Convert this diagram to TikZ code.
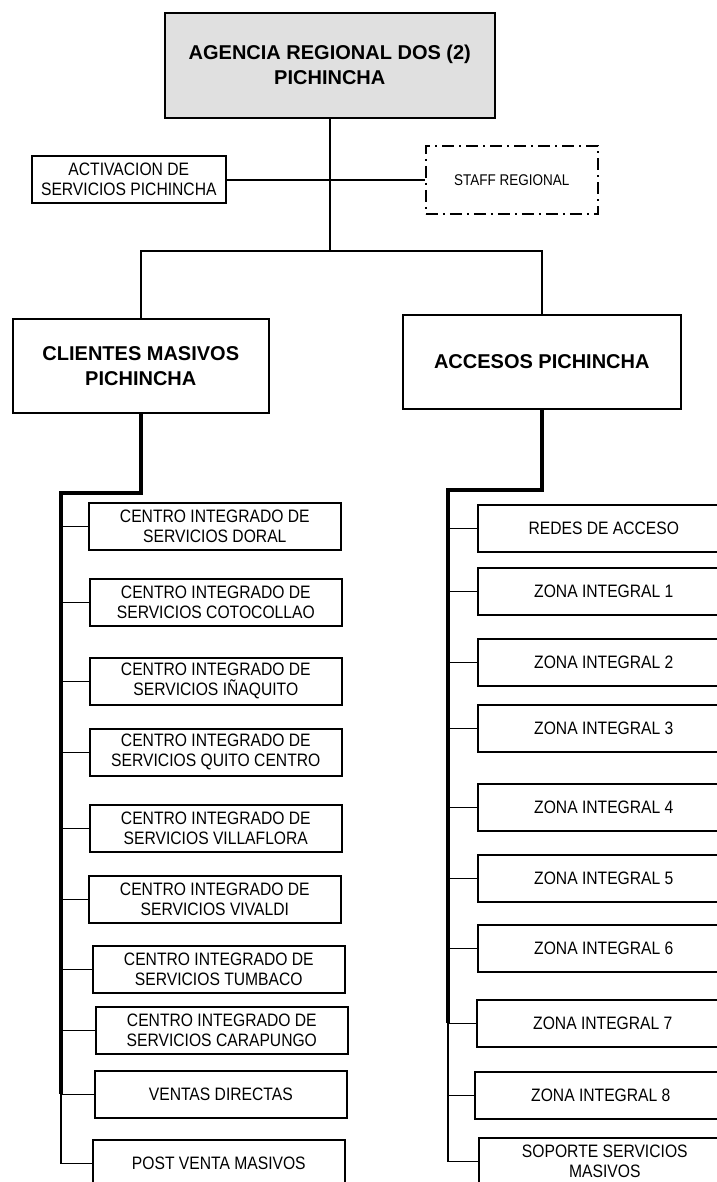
\documentclass[tikz,border=0pt]{standalone}
\usepackage{fontspec}
\setmainfont{Liberation Sans}
\newfontfamily\narrowfont[FakeStretch=0.87]{Liberation Sans}
\definecolor{headgray}{RGB}{224,224,224}
\begin{document}
\begin{tikzpicture}[x=1pt,y=-1pt,
  box/.style={draw,line width=1.6pt,anchor=north west,inner sep=0pt,align=center},
  headbox/.style={box,font=\fontsize{20}{25}\selectfont\bfseries},
  plainbox/.style={box,font=\narrowfont\fontsize{18}{20}\selectfont},
  unitbox/.style={plainbox,minimum width=252pt,minimum height=47pt},
  link/.style={line width=1.6pt},
  trunk/.style={line width=3.4pt},
  ]
\useasboundingbox (0,0) rectangle (716,1182);

% head of the regional agency
\node[headbox,fill=headgray,minimum width=330pt,minimum height=105pt] (agencia) at (164,12) {AGENCIA REGIONAL DOS (2)\\PICHINCHA};

% side units
\node[plainbox,minimum width=194pt,minimum height=47pt] (activ) at (31,155.5) {ACTIVACION DE\\SERVICIOS PICHINCHA};
\node[box,dash pattern=on 12pt off 5pt on 2pt off 5pt,minimum width=172pt,minimum height=68pt,
      font=\narrowfont\fontsize{15.5}{18}\selectfont] (staff) at (425,145) {STAFF REGIONAL};

% the two main areas
\node[headbox,minimum width=256pt,minimum height=94pt] (clientes) at (12,318) {CLIENTES MASIVOS\\PICHINCHA};
\node[headbox,minimum width=278pt,minimum height=94pt] (accesos) at (402,314) {ACCESOS PICHINCHA};

% units under CLIENTES MASIVOS
\node[unitbox] (doral) at (88,502) {CENTRO INTEGRADO DE\\SERVICIOS DORAL};
\node[unitbox] (coto)  at (89,578) {CENTRO INTEGRADO DE\\SERVICIOS COTOCOLLAO};
\node[unitbox] (inaq)  at (89,657) {CENTRO INTEGRADO DE\\SERVICIOS IÑAQUITO};
\node[unitbox] (quito) at (89,728) {CENTRO INTEGRADO DE\\SERVICIOS QUITO CENTRO};
\node[unitbox] (villa) at (89,804) {CENTRO INTEGRADO DE\\SERVICIOS VILLAFLORA};
\node[unitbox] (viva)  at (88,875) {CENTRO INTEGRADO DE\\SERVICIOS VIVALDI};
\node[unitbox] (tumb)  at (92,945) {CENTRO INTEGRADO DE\\SERVICIOS TUMBACO};
\node[unitbox] (cara)  at (95,1006) {CENTRO INTEGRADO DE\\SERVICIOS CARAPUNGO};
\node[unitbox] (vent)  at (94,1070) {VENTAS DIRECTAS};
\node[unitbox] (post)  at (92,1139) {POST VENTA MASIVOS};

% units under ACCESOS
\node[unitbox] (redes) at (477,504) {REDES DE ACCESO};
\node[unitbox] (zi1) at (477,567) {ZONA INTEGRAL 1};
\node[unitbox] (zi2) at (477,638) {ZONA INTEGRAL 2};
\node[unitbox] (zi3) at (477,704) {ZONA INTEGRAL 3};
\node[unitbox] (zi4) at (477,783) {ZONA INTEGRAL 4};
\node[unitbox] (zi5) at (477,854) {ZONA INTEGRAL 5};
\node[unitbox] (zi6) at (477,924) {ZONA INTEGRAL 6};
\node[unitbox] (zi7) at (476,999) {ZONA INTEGRAL 7};
\node[unitbox] (zi8) at (474,1071) {ZONA INTEGRAL 8};
\node[unitbox] (sop) at (478,1137) {SOPORTE SERVICIOS\\MASIVOS};

% connectors at the top
\draw[link] (activ.east) -- (staff.west);
\coordinate (fork) at (agencia.south |- 0,251);
\draw[link,line width=2pt] (agencia.south) -- (fork);
\draw[link] (clientes.north) |- (fork) -| (accesos.north);

% left trunk and branches
\coordinate (lspine) at (61,493);
\draw[trunk] (clientes.south) |- (lspine) -- (lspine |- vent.west);
\draw[link] (lspine |- vent.west) -- (lspine |- post.west) -- (post.west);
\foreach \n in {doral,coto,inaq,quito,villa,viva,tumb,cara,vent}
  \draw[link] (lspine |- \n.west) -- (\n.west);

% right trunk and branches
\coordinate (rspine) at (448,490);
\draw[trunk] (accesos.south) |- (rspine) -- (rspine |- zi7.west);
\draw[link] (rspine |- zi7.west) -- (rspine |- sop.west) -- (sop.west);
\foreach \n in {redes,zi1,zi2,zi3,zi4,zi5,zi6,zi7,zi8}
  \draw[link] (rspine |- \n.west) -- (\n.west);
\end{tikzpicture}
\end{document}
